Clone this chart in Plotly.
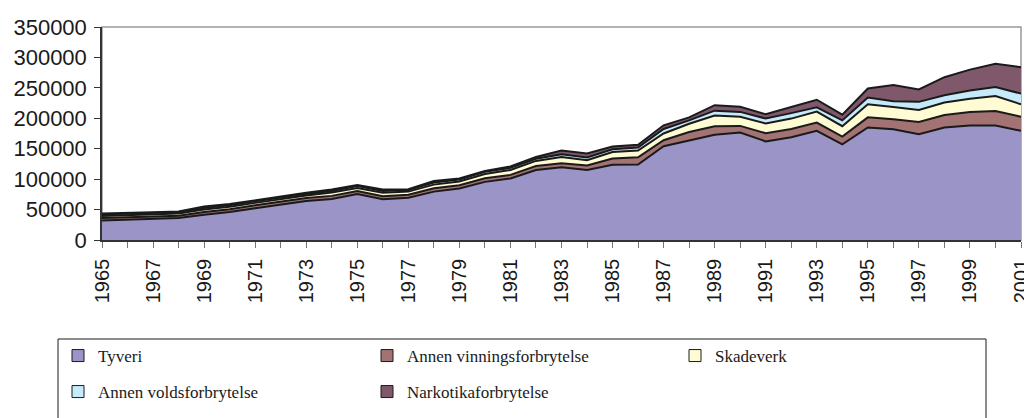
import plotly.graph_objects as go

years = list(range(1965, 2002))

tyveri = [32000, 33000, 34500, 36000, 41500, 46000, 52000, 58500, 64000, 67500,
          75500, 67000, 69500, 79500, 84500, 95500, 101000, 115000, 119500, 115000,
          123500, 124000, 154000, 163500, 173000, 176500, 162000, 169000, 179500, 157000,
          185000, 182000, 174000, 185000, 188000, 188000, 179500]
vinning = [4000, 4000, 4000, 4000, 4500, 4500, 5000, 5000, 5000, 5000,
           5000, 5000, 5000, 5500, 5500, 6000, 6000, 6500, 6500, 7500,
           10500, 12000, 10000, 14000, 14000, 11000, 13500, 13500, 13500, 13000,
           16500, 16500, 20000, 20500, 22500, 24000, 23000]
skadeverk = [3500, 3500, 3500, 3500, 4000, 4000, 4000, 4000, 4000, 5500,
             5000, 5500, 5000, 6000, 6000, 7000, 8000, 8500, 10500, 8500,
             10500, 11000, 11000, 13500, 17500, 15000, 16000, 17000, 18000, 17000,
             21500, 20000, 19500, 20500, 21500, 24500, 20500]
vold = [2500, 2500, 2500, 2500, 2500, 2500, 2500, 2500, 2500, 2500,
        3000, 3000, 2500, 3500, 3500, 3500, 3500, 3500, 4500, 4500,
        4500, 5000, 7500, 5500, 8000, 8000, 8000, 9000, 7000, 9500,
        11000, 9500, 13500, 12000, 13500, 15000, 17500]
narko = [1500, 1000, 1000, 1000, 2500, 2000, 2000, 2000, 2000, 2500,
         2000, 2500, 1500, 2500, 1500, 1500, 2500, 3000, 6000, 6500,
         4500, 4500, 6000, 5000, 9000, 8500, 7000, 10000, 12500, 9500,
         15000, 26500, 20500, 29500, 34500, 38000, 43500]

names = ["Tyveri", "Annen vinningsforbrytelse", "Skadeverk",
         "Annen voldsforbrytelse", "Narkotikaforbrytelse"]
colors = ["#9A94C7", "#A37272", "#FFFBD2", "#C5EBFA", "#7F586C"]
series = [tyveri, vinning, skadeverk, vold, narko]
legend_ids = ["legend", "legend2", "legend3", "legend4", "legend5"]

y_ticks = [0, 50000, 100000, 150000, 200000, 250000, 300000, 350000]
x_ticktext = [str(y) if (y - 1965) % 2 == 0 else "" for y in years]

fig = go.Figure()
for name, col, vals in zip(names, colors, series):
    fig.add_trace(go.Scatter(
        x=years, y=vals, name=name, stackgroup="one", mode="lines",
        line=dict(color="#1a1a1a", width=2), fillcolor=col,
        showlegend=False, hoverinfo="x+y+name"))

for name, col, lg in zip(names, colors, legend_ids):
    fig.add_trace(go.Scatter(
        x=[None], y=[None], name=name, mode="markers", legend=lg,
        marker=dict(symbol="square", size=12, color=col,
                    line=dict(color="#1a1a1a", width=1))))

W, H = 1032, 418
# the page body adds an 8px offset; figure coordinates below compensate
L, R, T, B = 94, 1013, 19, 232
PW, PH = R - L, B - T


def leg(px, py):
    return dict(
        orientation="h", xref="container", yref="container",
        x=px / W, y=1 - py / H, xanchor="left", yanchor="middle",
        itemwidth=30, traceorder="normal",
        font=dict(family="Liberation Serif", size=17, color="#1a1a1a"),
        bgcolor="rgba(0,0,0,0)", borderwidth=0)


fig.update_layout(
    width=W, height=H,
    margin=dict(l=L, r=W - R, t=T, b=H - B, autoexpand=False),
    paper_bgcolor="white", plot_bgcolor="white",
    font=dict(family="Liberation Sans", size=21, color="#1a1a1a"),
    xaxis=dict(range=[1965, 2001], tickmode="array", tickvals=years,
               ticktext=x_ticktext, tickangle=-90, ticks="outside",
               ticklen=6, tickcolor="#777777", showgrid=False,
               showline=True, linecolor="#333333", linewidth=1.5,
               zeroline=False, tickfont=dict(size=20), automargin=False,
               ticklabeloverflow="allow", ticklabelstandoff=3),
    yaxis=dict(range=[0, 350000], tickmode="array", tickvals=y_ticks,
               tickformat="d", ticks="outside", ticklen=6,
               tickcolor="#333333", showgrid=False, showline=True,
               linecolor="#333333", linewidth=1.5, zeroline=False,
               tickfont=dict(size=22), ticklabelstandoff=3, automargin=False),
    legend=leg(50, 348),
    legend2=leg(359, 348),
    legend3=leg(667, 348),
    legend4=leg(50, 384),
    legend5=leg(359, 384),
    shapes=[
        dict(type="rect", xref="paper", yref="paper", x0=0, x1=1, y0=0, y1=1,
             line=dict(color="#999999", width=1.5), layer="below"),
        dict(type="rect", xref="paper", yref="paper",
             x0=(50 - L) / PW, x1=(978 - L) / PW,
             y0=(B - 414) / PH, y1=(B - 331) / PH,
             line=dict(color="#1a1a1a", width=1), layer="above"),
    ],
)

fig.write_html("out.html", config={"displayModeBar": False})
